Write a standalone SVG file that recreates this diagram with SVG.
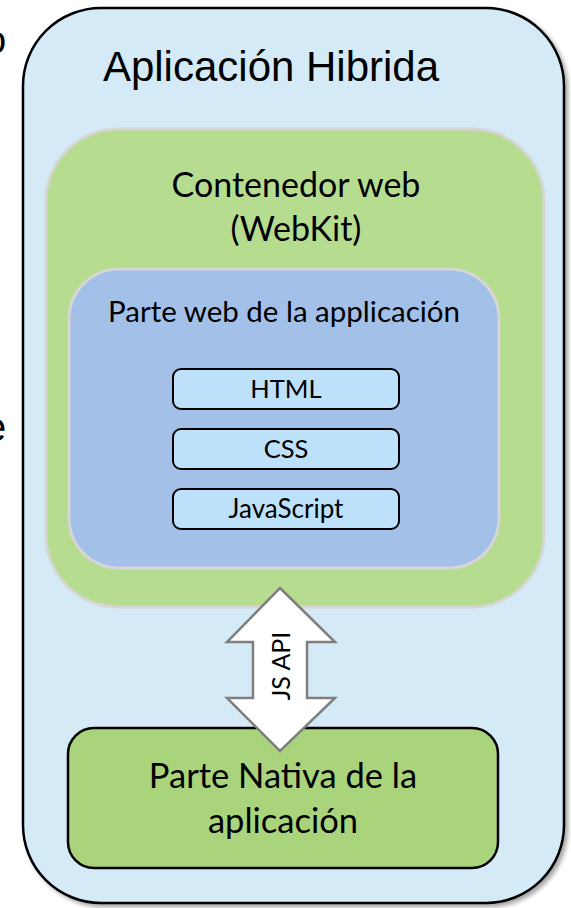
<svg xmlns="http://www.w3.org/2000/svg" width="571" height="908" viewBox="0 0 571 908">
<defs>
<style>
.ar{font-family:"Liberation Sans",Arial,sans-serif;fill:#000}
.ca{font-family:Lato,"Open Sans","Liberation Sans",sans-serif;fill:#000;text-anchor:middle}
.small{fill:#bde0fb;stroke:#000;stroke-width:2}
</style>
<filter id="sh" x="-10%" y="-10%" width="120%" height="120%">
<feGaussianBlur in="SourceAlpha" stdDeviation="2"/>
<feOffset dx="3" dy="3"/>
<feComponentTransfer><feFuncA type="linear" slope="0.35"/></feComponentTransfer>
<feMerge><feMergeNode/><feMergeNode in="SourceGraphic"/></feMerge>
</filter>
</defs>
<rect width="571" height="908" fill="#fff"/>
<text class="ar" x="-15" y="53" font-size="38">o</text>
<text class="ar" x="-16" y="441" font-size="40">e</text>
<g id="app">
<rect x="23" y="8" width="541" height="895" rx="78" fill="#d5eaf7" stroke="#000" stroke-width="2.5" filter="url(#sh)"/>
<text class="ar" x="271" y="81" font-size="42" text-anchor="middle">Aplicación Hibrida</text>
</g>
<g id="contenedor">
<rect x="46" y="129" width="498" height="478" rx="72" fill="#b6dd8f" stroke="#d6d6d6" stroke-width="3"/>
<text class="ca" x="296" y="197" font-size="34">Contenedor web</text>
<text class="ca" x="296" y="241" font-size="34">(WebKit)</text>
</g>
<g id="parteweb">
<rect x="69" y="269" width="430" height="299" rx="50" fill="#a3c0e8" stroke="#d6d6d6" stroke-width="3"/>
<text class="ca" x="284" y="322" font-size="29.5">Parte web de la applicación</text>
</g>
<g id="html">
<rect class="small" x="173" y="369" width="226" height="40" rx="8"/>
<text class="ca" x="286" y="398" font-size="25.5">HTML</text>
</g>
<g id="css">
<rect class="small" x="173" y="429" width="226" height="40" rx="8"/>
<text class="ca" x="286" y="458" font-size="25.5">CSS</text>
</g>
<g id="js">
<rect class="small" x="173" y="489" width="226" height="40" rx="8"/>
<text class="ca" x="286" y="518" font-size="26">JavaScript</text>
</g>
<g id="nativa">
<rect x="68" y="728" width="430" height="140" rx="26" fill="#a9d47b" stroke="#000" stroke-width="2.5"/>
<text class="ca" x="283" y="788" font-size="34.5">Parte Nativa de la</text>
<text class="ca" x="283" y="833" font-size="34.5">aplicación</text>
</g>
<g id="connectors">
<polygon points="280,588 335,642 307,642 307,698 335,698 280,751 227,698 253,698 253,642 227,642" fill="#fff" stroke="#7f7f7f" stroke-width="2.5" stroke-linejoin="miter"/>
<text class="ca" x="0" y="0" font-size="25" transform="translate(290,666) rotate(-90)">JS API</text>
</g>
</svg>
